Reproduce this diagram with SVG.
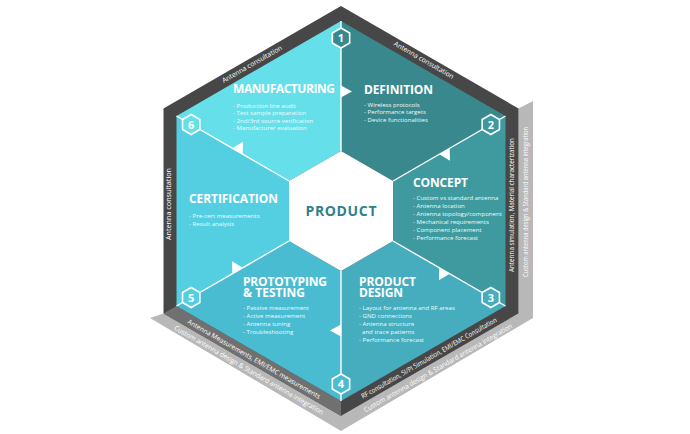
<svg xmlns="http://www.w3.org/2000/svg" width="690" height="434" viewBox="0 0 690 434">
<defs>
<style>
.ft{font-family:"Open Sans","Liberation Sans",sans-serif;font-size:6.8px;fill:#fff;text-anchor:middle}
.title{font-family:"Open Sans","Liberation Sans",sans-serif;font-weight:700;font-size:12px;fill:#fff}
.bul{font-family:"Open Sans","Liberation Sans",sans-serif;font-size:6.1px;fill:#eefbfc}
.num{font-family:"Open Sans","Liberation Sans",sans-serif;font-weight:700;font-size:11px;fill:#fff;text-anchor:middle}
.badge{stroke:#fff;stroke-width:1.6}
.div{stroke:#fff;stroke-width:1.4;fill:none}
.arrow{fill:#fff}
</style>
<polygon id="tri" points="341,85.5 352,91.5 341,97.5"/>
</defs>
<rect width="690" height="434" fill="#fff"/>
<g id="frame">
<polygon fill="#b8b8b8" points="150,318 341,431 533,318 533,101 518.5,108.5 518.5,313.5 341,416 163.5,313.5"/>
<polygon fill="#474747" points="341,6 518.5,108.5 518.5,313.5 341,416 163.5,313.5 163.5,108.5"/>
<polygon fill="#707070" points="176.5,306 341,401 341,416 163.5,313.5"/>
<text class="ft" transform="translate(252,64) rotate(-30)" y="2.4" textLength="68" lengthAdjust="spacingAndGlyphs">Antenna consultation</text>
<text class="ft" transform="translate(424,60) rotate(30)" y="2.4" textLength="68" lengthAdjust="spacingAndGlyphs">Antenna consultation</text>
<text class="ft" transform="translate(169,204) rotate(-90)" y="2.4" textLength="72" lengthAdjust="spacingAndGlyphs">Antenna consultation</text>
<text class="ft" transform="translate(512,205) rotate(-90)" y="2.4" textLength="134" lengthAdjust="spacingAndGlyphs">Antenna simulation, Material characterization</text>
<text class="ft" transform="translate(526,202) rotate(-90)" y="2.4" textLength="150" lengthAdjust="spacingAndGlyphs">Custom antenna design &amp; Standard antenna integration</text>
<text class="ft" transform="translate(429,358) rotate(-30)" y="2.4" textLength="155" lengthAdjust="spacingAndGlyphs">RF consultation, SI/PI Simulation, EMI/EMC Consultation</text>
<text class="ft" transform="translate(438,368) rotate(-30)" y="2.4" textLength="170" lengthAdjust="spacingAndGlyphs">Custom antenna design &amp; Standard antenna integration</text>
<text class="ft" transform="translate(254,359) rotate(30)" y="2.4" textLength="152" lengthAdjust="spacingAndGlyphs">Antenna Measurements, EMI/EMC measurements</text>
<text class="ft" transform="translate(249,370) rotate(30)" y="2.4" textLength="171" lengthAdjust="spacingAndGlyphs">Custom antenna design &amp; Standard antenna integration</text>
</g>
<g id="definition">
<polygon fill="#38888d" points="341,21 505.5,116 393,181 341,151"/>
<text class="title" x="364" y="94" textLength="69">DEFINITION</text>
<text class="bul" x="364" y="106.5">- Wireless protocols</text>
<text class="bul" x="364" y="114">- Performance targets</text>
<text class="bul" x="364" y="121.5">- Device functionalities</text>
</g>
<g id="concept">
<polygon fill="#3e9a9f" points="505.5,116 505.5,306 393,241 393,181"/>
<text class="title" x="413" y="187" textLength="55">CONCEPT</text>
<text class="bul" x="413" y="199.5">- Custom vs standard antenna</text>
<text class="bul" x="413" y="207.5">- Antenna location</text>
<text class="bul" x="413" y="215.5">- Antenna topology/component</text>
<text class="bul" x="413" y="223.5">- Mechanical requirements</text>
<text class="bul" x="413" y="231.5">- Component placement</text>
<text class="bul" x="413" y="239.5">- Performance forecast</text>
</g>
<g id="product-design">
<polygon fill="#45adbe" points="505.5,306 341,401 341,271 393,241"/>
<text class="title"><tspan x="359" y="286" textLength="57">PRODUCT</tspan><tspan x="359" y="296.5" textLength="44">DESIGN</tspan></text>
<text class="bul" x="359" y="310">- Layout for antenna and RF areas</text>
<text class="bul" x="359" y="318">- GND connections</text>
<text class="bul" x="359" y="325.5">- Antenna structure</text>
<text class="bul" x="362" y="333.5">and trace patterns</text>
<text class="bul" x="359" y="341.5">- Performance forecast</text>
</g>
<g id="prototyping-testing">
<polygon fill="#4abcd1" points="341,401 176.5,306 289,241 341,271"/>
<text class="title"><tspan x="243" y="286" textLength="84">PROTOTYPING</tspan><tspan x="243" y="296.5" textLength="62">&amp; TESTING</tspan></text>
<text class="bul" x="243" y="309.5">- Passive measurement</text>
<text class="bul" x="243" y="317.5">- Active measurement</text>
<text class="bul" x="243" y="325.5">- Antenna tuning</text>
<text class="bul" x="243" y="333.5">- Troubleshooting</text>
</g>
<g id="certification">
<polygon fill="#54cfe2" points="176.5,306 176.5,116 289,181 289,241"/>
<text class="title" x="189" y="203" textLength="89">CERTIFICATION</text>
<text class="bul" x="189" y="218">- Pre-cert measurements</text>
<text class="bul" x="189" y="226">- Result analysis</text>
</g>
<g id="manufacturing">
<polygon fill="#65e0ea" points="176.5,116 341,21 341,151 289,181"/>
<text class="title" x="233" y="93" textLength="102">MANUFACTURING</text>
<text class="bul" x="233" y="107.5">- Production line audit</text>
<text class="bul" x="233" y="115">- Test sample preparation</text>
<text class="bul" x="233" y="122.5">- 2nd/3rd source verification</text>
<text class="bul" x="233" y="130">- Manufacturer evaluation</text>
</g>
<g id="product">
<polygon fill="#fff" points="341,151 393,181 393,241 341,271 289,241 289,181"/>
<text x="341" y="216" text-anchor="middle" font-family="Open Sans, Liberation Sans, sans-serif" font-weight="700" font-size="14" fill="#2e8189" textLength="71">PRODUCT</text>
</g>
<g id="connectors">
<line class="div" x1="341" y1="21" x2="341" y2="151"/>
<line class="div" x1="505.5" y1="116" x2="393" y2="181"/>
<line class="div" x1="505.5" y1="306" x2="393" y2="241"/>
<line class="div" x1="341" y1="401" x2="341" y2="271"/>
<line class="div" x1="176.5" y1="306" x2="289" y2="241"/>
<line class="div" x1="176.5" y1="116" x2="289" y2="181"/>
<use href="#tri" class="arrow"/>
<use href="#tri" class="arrow" transform="rotate(60 341 211)"/>
<use href="#tri" class="arrow" transform="rotate(120 341 211)"/>
<use href="#tri" class="arrow" transform="rotate(180 341 211)"/>
<use href="#tri" class="arrow" transform="rotate(240 341 211)"/>
<use href="#tri" class="arrow" transform="rotate(300 341 211)"/>
</g>
<g id="badges">
<g transform="translate(341,38)"><polygon class="badge" fill="#38888d" points="0,-10 8.66,-5 8.66,5 0,10 -8.66,5 -8.66,-5"/><text class="num" y="4">1</text></g>
<g transform="translate(490.8,124.5)"><polygon class="badge" fill="#3e9a9f" points="0,-10 8.66,-5 8.66,5 0,10 -8.66,5 -8.66,-5"/><text class="num" y="4">2</text></g>
<g transform="translate(490.8,297.5)"><polygon class="badge" fill="#45adbe" points="0,-10 8.66,-5 8.66,5 0,10 -8.66,5 -8.66,-5"/><text class="num" y="4">3</text></g>
<g transform="translate(341,384)"><polygon class="badge" fill="#4abcd1" points="0,-10 8.66,-5 8.66,5 0,10 -8.66,5 -8.66,-5"/><text class="num" y="4">4</text></g>
<g transform="translate(191.2,297.5)"><polygon class="badge" fill="#54cfe2" points="0,-10 8.66,-5 8.66,5 0,10 -8.66,5 -8.66,-5"/><text class="num" y="4">5</text></g>
<g transform="translate(191.2,124.5)"><polygon class="badge" fill="#65e0ea" points="0,-10 8.66,-5 8.66,5 0,10 -8.66,5 -8.66,-5"/><text class="num" y="4">6</text></g>
</g>
</svg>
